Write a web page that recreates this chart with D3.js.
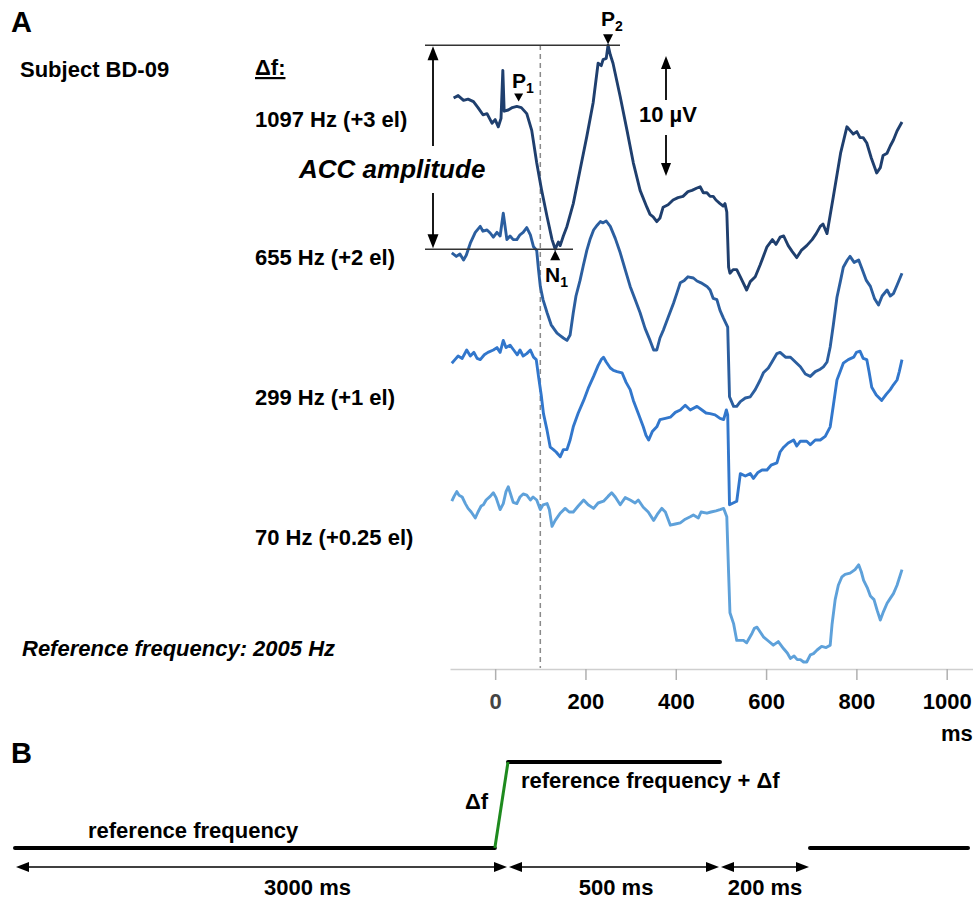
<!DOCTYPE html>
<html>
<head>
<meta charset="utf-8">
<script src="https://cdn.jsdelivr.net/npm/d3@7"></script>
<style>
  body { margin: 0; background: #fff; }
  svg { display: block; font-family: "Liberation Sans", Arial, sans-serif; font-weight: bold; }
</style>
</head>
<body>
<div id="chart"></div>
<script>
// ---- data (values in µV relative to each trace's baseline) ----
const traceLabels = ["1097 Hz (+3 el)", "655 Hz (+2 el)", "299 Hz (+1 el)", "70 Hz (+0.25 el)"];
const traceOffsets = [47, 35.5, 26.5, 14];
const traceColors = ["#1f3f6e", "#2b5e9f", "#3277cc", "#5ea1da"];
const xTicks = [0, 200, 400, 600, 800, 1000];

const trace1097 = [[-92,0.5],[-82,0.7],[-70,0.3],[-60,0.4],[-48,0.2],[-38,-0.3],[-27,-0.9],[-18,-0.8],[-7,-1.6],[0,-1.3],[7,-1.9],[13,-1.2],[17,2.8],[20,-0.6],[29,-0.5],[38,-0.3],[48,-0.2],[58,-0.3],[70,-0.8],[81,-2.2],[92,-4.9],[103,-7.2],[115,-9.4],[126,-11.3],[133,-12.1],[140,-11.5],[144,-11.8],[151,-11.0],[159,-10.2],[173,-8.3],[188,-5.5],[203,-2.7],[217,0.1],[228,3.4],[235,3.2],[239,3.7],[246,3.8],[250,4.9],[255,4.1],[261,3.4],[277,0.6],[292,-2.2],[306,-4.9],[321,-7.2],[336,-8.6],[343,-9.2],[350,-9.4],[358,-9.8],[365,-9.5],[372,-8.6],[383,-8.4],[394,-8.0],[405,-7.8],[416,-7.7],[427,-7.3],[436,-7.2],[447,-7.0],[454,-6.9],[461,-7.4],[469,-7.4],[476,-7.7],[483,-7.7],[489,-8.0],[498,-8.3],[505,-8.5],[509,-8.3],[513,-9.0],[517,-13.6],[520,-14.1],[527,-13.8],[535,-13.8],[543,-14.4],[557,-15.5],[565,-14.8],[576,-14.4],[587,-13.4],[602,-11.9],[614,-11.3],[622,-11.7],[631,-11.1],[639,-11.0],[649,-11.8],[658,-12.3],[668,-12.8],[678,-12.2],[690,-11.8],[702,-11.3],[711,-10.8],[720,-10.2],[726,-10.0],[735,-10.8],[742,-9.25],[749,-7.7],[765,-4.1],[779,-1.9],[786,-2.2],[793,-2.5],[801,-2.3],[808,-2.8],[815,-2.8],[823,-3.25],[833,-4.5],[845,-5.75],[853,-5.3],[859,-4.3],[868,-4.1],[875,-3.5],[882,-3.0],[890,-2.25],[901,-1.5]];

const trace655 = [[-96,-0.9],[-86,-1.2],[-78,-1.0],[-70,-1.5],[-64,-1.1],[-55,-0.1],[-44,0.8],[-33,1.3],[-27,0.9],[-18,1.0],[-11,0.75],[-4,0.4],[4,0.8],[11,0.5],[18,2.4],[26,0.2],[33,0.5],[40,0.2],[48,0.2],[55,0.6],[62,0.8],[70,1.2],[78,0.6],[85,-0.4],[92,-0.7],[96,-2.3],[100,-3.7],[106,-4.8],[115,-5.9],[124,-6.9],[137,-7.6],[144,-7.8],[151,-8.0],[159,-8.2],[166,-7.75],[173,-5.9],[179,-4.5],[188,-3.2],[195,-2.0],[203,-0.7],[210,0.2],[218,1.0],[226,1.4],[233,1.7],[239,1.6],[246,1.75],[255,1.3],[266,0.3],[277,-0.9],[288,-2.3],[299,-3.7],[310,-4.8],[321,-5.9],[332,-7.2],[343,-8.2],[351,-9.0],[358,-9.0],[365,-8.0],[373,-7.3],[383,-6.3],[395,-5.1],[403,-4.2],[410,-3.4],[419,-3.2],[427,-2.9],[439,-3.0],[447,-3.25],[456,-3.4],[469,-3.7],[476,-4.0],[483,-4.7],[491,-4.8],[498,-5.7],[505,-6.3],[515,-7.1],[519,-12.9],[528,-13.7],[535,-13.7],[543,-13.3],[554,-13.0],[565,-12.9],[576,-12.3],[587,-11.5],[594,-10.9],[605,-10.5],[613,-10.0],[624,-9.3],[631,-9.2],[643,-9.6],[654,-9.6],[665,-10.0],[676,-10.4],[687,-11.0],[698,-11.2],[709,-10.8],[720,-10.6],[727,-10.4],[735,-10.0],[742,-8.75],[749,-6.9],[757,-4.6],[765,-3.2],[771,-2.1],[780,-1.5],[786,-1.2],[795,-1.7],[805,-1.5],[813,-2.3],[822,-3.2],[831,-3.7],[840,-4.7],[849,-5.25],[857,-4.5],[868,-4.0],[875,-4.5],[882,-4.3],[890,-3.6],[901,-2.6]];

const trace299 = [[-96,-1.1],[-89,-0.8],[-82,-0.5],[-73,-0.7],[-63,0],[-55,-0.5],[-47,-0.2],[-40,-0.7],[-33,-0.8],[-24,-0.4],[-16,-0.2],[-4,0],[4,0.2],[11,-0.2],[18,0.8],[24,0.2],[33,0.4],[41,0],[49,-0.4],[55,0],[62,-0.5],[70,-0.3],[78,0],[85,-0.6],[91,-0.8],[96,-2.2],[102,-3.75],[107,-5.3],[115,-6.7],[122,-8.1],[129,-8.3],[135,-8.5],[144,-8.9],[151,-8.3],[159,-8.3],[166,-7.5],[173,-6.4],[184,-5.25],[196,-4.2],[206,-3.2],[218,-2.2],[228,-1.3],[235,-0.8],[240,-0.6],[246,-1.0],[255,-1.5],[262,-1.7],[270,-1.8],[281,-1.9],[290,-2.7],[299,-3.3],[306,-4.2],[317,-5.3],[328,-6.4],[334,-7.1],[340,-7.5],[348,-6.8],[358,-6.4],[365,-5.8],[377,-5.7],[388,-5.6],[399,-5.2],[410,-5.0],[421,-4.6],[432,-5.0],[447,-4.7],[458,-5.0],[467,-5.25],[476,-5.3],[487,-5.4],[498,-5.7],[506,-5.8],[512,-5.0],[515,-5.4],[519,-12.9],[527,-12.75],[535,-12.6],[543,-10.3],[554,-10.5],[565,-10.3],[572,-10.7],[582,-10.2],[591,-10.0],[602,-10.0],[611,-9.6],[624,-9.4],[631,-8.5],[639,-8.1],[649,-7.75],[661,-7.5],[668,-8.0],[676,-7.6],[690,-7.6],[698,-7.9],[709,-7.5],[720,-7.5],[731,-7.2],[742,-6.4],[749,-4.6],[757,-2.5],[765,-1.7],[771,-1.1],[782,-0.8],[794,-0.6],[800,-0.2],[808,-0.1],[815,-0.7],[823,-0.8],[828,-1.8],[834,-3.1],[844,-3.75],[856,-4.2],[866,-3.7],[875,-3.3],[882,-2.9],[890,-2.5],[895,-1.8],[901,-0.8]];

const trace70 = [[-96,-0.1],[-91,0.3],[-85,0.7],[-80,0.4],[-73,0.25],[-66,-0.3],[-60,-0.7],[-53,-1.0],[-44,-1.5],[-38,-1.0],[-31,-0.5],[-26,-0.4],[-20,0],[-11,0.3],[-4,0.6],[2,0.2],[11,-0.8],[18,-0.3],[24,0.7],[29,1.1],[35,0.4],[40,-0.2],[48,-0.3],[55,0.25],[62,0.5],[70,0.4],[78,0],[84,0.25],[92,0],[100,-0.8],[106,-0.4],[115,-0.3],[120,-0.8],[126,-2.2],[133,-1.7],[144,-1.1],[155,-0.7],[164,-1.0],[173,-1.0],[184,-0.5],[196,0],[206,-0.4],[218,-0.7],[228,-0.25],[240,-0.1],[250,0.3],[258,0.6],[266,0.25],[277,-0.4],[288,0.2],[299,0],[310,-0.25],[317,0],[328,-0.6],[339,-1.0],[351,-1.7],[359,-1.2],[369,-0.7],[377,-1.0],[388,-2.1],[399,-2.0],[410,-1.9],[421,-1.6],[432,-1.4],[439,-1.25],[450,-1.5],[456,-1.0],[469,-1.1],[478,-1.0],[489,-0.9],[498,-0.8],[506,-0.7],[513,-1.4],[517,-6.1],[520,-9.4],[528,-10.3],[535,-11.7],[543,-11.7],[550,-11.7],[557,-11.9],[563,-11.5],[569,-11.1],[574,-10.7],[580,-10.6],[587,-11.0],[594,-11.4],[605,-11.75],[616,-12.1],[627,-11.8],[639,-12.4],[647,-12.75],[654,-13.2],[662,-13.0],[669,-13.3],[676,-13.3],[683,-13.5],[690,-13.5],[698,-12.9],[705,-12.8],[713,-12.5],[723,-12.2],[733,-12.3],[742,-12.1],[746,-10.4],[753,-8.3],[760,-7.1],[768,-6.4],[775,-6.2],[786,-6.1],[797,-5.8],[805,-5.4],[811,-6.0],[816,-6.7],[824,-7.3],[831,-8.0],[839,-8.3],[846,-9.2],[853,-10.0],[860,-9.3],[868,-8.6],[875,-8.2],[882,-7.8],[890,-7.1],[901,-5.8]];

const traces = [trace1097, trace655, trace299, trace70];

// stimulus schematic (panel B): times in ms, level 0 = reference, 1 = reference + Δf
const stimBreaks = [0, 3000, 3500, 3700, 4050];
const stimRamp = [[2920, 0], [3000, 1]];
const stimLines = [[[0, 0], [2920, 0]], [[3000, 1], [3500, 1]], [[3700, 0], [4050, 0]]];
const stimIntervals = [[0, 3000, "3000 ms", 1780], [3000, 3500, "500 ms", 3255], [3500, 3700, "200 ms", 3600]];

// ---- layout ----
const W = 973, H = 899;
const svg = d3.select("#chart").append("svg").attr("width", W).attr("height", H);

const x = d3.scaleLinear().domain([-100, 1130]).range([450, 1005.4]);
const y = d3.scaleLinear().domain([0, 10]).range([668, 548]); // 12 px per µV

function arrowHead(g, tx, ty, dir, len, wid) {
  // dir: "up","down","left","right" - tip at (tx,ty)
  let p;
  if (dir === "up") p = [[tx, ty], [tx - wid / 2, ty + len], [tx + wid / 2, ty + len]];
  if (dir === "down") p = [[tx, ty], [tx - wid / 2, ty - len], [tx + wid / 2, ty - len]];
  if (dir === "left") p = [[tx, ty], [tx + len, ty - wid / 2], [tx + len, ty + wid / 2]];
  if (dir === "right") p = [[tx, ty], [tx - len, ty - wid / 2], [tx - len, ty + wid / 2]];
  g.append("path").attr("d", "M" + p.join("L") + "Z").attr("fill", "#000");
}

// panel letters and labels
svg.append("text").attr("x", 11).attr("y", 32).style("font-size", "29px").text("A");
svg.append("text").attr("x", 11).attr("y", 763).style("font-size", "29px").text("B");
svg.append("text").attr("x", 20).attr("y", 77).style("font-size", "22px").text("Subject BD-09");
svg.append("text").attr("x", 255).attr("y", 75).style("font-size", "22px")
  .style("text-decoration", "underline").text("Δf:");

const labelY = [127, 265, 405, 545];
traceLabels.forEach((t, i) => {
  svg.append("text").attr("x", 255).attr("y", labelY[i]).style("font-size", "22px").text(t);
});
svg.append("text").attr("x", 22).attr("y", 656).style("font-size", "22px")
  .style("font-style", "italic").text("Reference frequency: 2005 Hz");

// x axis
const xAxis = d3.axisBottom(x).tickValues(xTicks).tickSize(11).tickSizeOuter(0).tickFormat(d3.format("d"));
const axG = svg.append("g").attr("transform", "translate(0,669)").call(xAxis);
axG.select(".domain").attr("stroke", "#cfcfcf").attr("stroke-width", 1.5);
axG.selectAll(".tick line").attr("stroke", "#b0b0b0").attr("stroke-width", 1.5);
axG.selectAll(".tick text")
  .attr("y", 40).attr("dy", 0)
  .style("font-size", "22px").style("font-family", "'Liberation Sans', Arial, sans-serif")
  .style("font-weight", "bold")
  .attr("fill", d => d === 0 ? "#444" : "#000");
svg.append("text").attr("x", 941).attr("y", 741).style("font-size", "22px").text("ms");

// stimulus change marker (dashed) at 100 ms
svg.append("line").attr("x1", x(100)).attr("x2", x(100)).attr("y1", 45).attr("y2", 668)
  .attr("stroke", "#8a8a8a").attr("stroke-width", 1.5).attr("stroke-dasharray", "5,4");

// traces
const line = d3.line().x(d => x(d[0]));
traces.forEach((tr, i) => {
  svg.append("path")
    .datum(tr)
    .attr("fill", "none")
    .attr("stroke", traceColors[i])
    .attr("stroke-width", 2.9)
    .attr("stroke-linejoin", "round")
    .attr("d", line.y(d => y(traceOffsets[i] + d[1])));
});

// ACC amplitude annotation (P2 peak and N1 trough of the top trace)
const topTrace = trace1097;
const p2 = topTrace.find(d => d[0] === 250);
const n1 = topTrace.find(d => d[0] === 133);
const p1 = topTrace.find(d => d[0] === 48);
const yP2 = y(traceOffsets[0] + p2[1]);
const yN1 = y(traceOffsets[0] + n1[1]);
const ann = svg.append("g");
ann.append("line").attr("x1", 425).attr("x2", 620).attr("y1", yP2).attr("y2", yP2).attr("stroke", "#333").attr("stroke-width", 1.5);
ann.append("line").attr("x1", 425).attr("x2", 573).attr("y1", yN1).attr("y2", yN1).attr("stroke", "#333").attr("stroke-width", 1.5);
ann.append("line").attr("x1", 433).attr("x2", 433).attr("y1", yP2 + 6).attr("y2", 146).attr("stroke", "#000").attr("stroke-width", 1.8);
ann.append("line").attr("x1", 433).attr("x2", 433).attr("y1", 193).attr("y2", yN1 - 6).attr("stroke", "#000").attr("stroke-width", 1.8);
arrowHead(ann, 433, yP2 + 1, "up", 14, 11);
arrowHead(ann, 433, yN1 - 1, "down", 14, 11);
svg.append("text").attr("x", 299).attr("y", 178).style("font-size", "26px")
  .style("font-style", "italic").text("ACC amplitude");

// peak markers
arrowHead(ann, x(p2[0]), yP2 - 1, "down", 10, 10);
arrowHead(ann, x(52), y(traceOffsets[0] + p1[1]) - 5, "down", 8, 9);
arrowHead(ann, x(n1[0]), yN1 + 1, "up", 10, 10);

function peakLabel(px, py, letter, sub) {
  const t = svg.append("text").attr("x", px).attr("y", py).style("font-size", "21px");
  t.append("tspan").text(letter);
  t.append("tspan").attr("dy", 5).style("font-size", "14px").text(sub);
}
peakLabel(601, 26, "P", "2");
peakLabel(512, 88, "P", "1");
peakLabel(545, 282, "N", "1");

// 10 µV scale bar
const sb = svg.append("g");
const sbTop = 56, sbBot = sbTop + (y(0) - y(10));
sb.append("line").attr("x1", 666).attr("x2", 666).attr("y1", sbTop + 6).attr("y2", 100).attr("stroke", "#000").attr("stroke-width", 1.8);
sb.append("line").attr("x1", 666).attr("x2", 666).attr("y1", 135).attr("y2", sbBot - 6).attr("stroke", "#000").attr("stroke-width", 1.8);
arrowHead(sb, 666, sbTop, "up", 13, 10);
arrowHead(sb, 666, sbBot, "down", 13, 10);
svg.append("text").attr("x", 668).attr("y", 122).attr("text-anchor", "middle").style("font-size", "22px").text("10 µV");

// ---- panel B: stimulus schematic ----
const xs = d3.scaleLinear().domain(stimBreaks).range([15, 508, 720, 810, 968]);
const ys = d3.scaleLinear().domain([0, 1]).range([848, 762]);
const sline = d3.line().x(d => xs(d[0])).y(d => ys(d[1]));

stimLines.forEach(seg => {
  svg.append("path").datum(seg).attr("d", sline).attr("stroke", "#000")
    .attr("stroke-width", 4).attr("stroke-linecap", "round").attr("fill", "none");
});
svg.append("path").datum(stimRamp).attr("d", sline).attr("stroke", "#1e8a1e")
  .attr("stroke-width", 3).attr("fill", "none");

const arrY = 867;
stimIntervals.forEach(([a, b, lab, lt]) => {
  const g = svg.append("g");
  g.append("line").attr("x1", xs(a) + 4).attr("x2", xs(b) - 4).attr("y1", arrY).attr("y2", arrY)
    .attr("stroke", "#000").attr("stroke-width", 1.6);
  arrowHead(g, xs(a) + 1, arrY, "left", 13, 10);
  arrowHead(g, xs(b) - 1, arrY, "right", 13, 10);
  svg.append("text").attr("x", xs(lt)).attr("y", 895).attr("text-anchor", "middle")
    .style("font-size", "22px").text(lab);
});

svg.append("text").attr("x", 88).attr("y", 838).style("font-size", "22px").text("reference frequency");
svg.append("text").attr("x", 521).attr("y", 788).style("font-size", "22px").text("reference frequency + Δf");
svg.append("text").attr("x", 465).attr("y", 809).style("font-size", "22px").text("Δf");
</script>
</body>
</html>
